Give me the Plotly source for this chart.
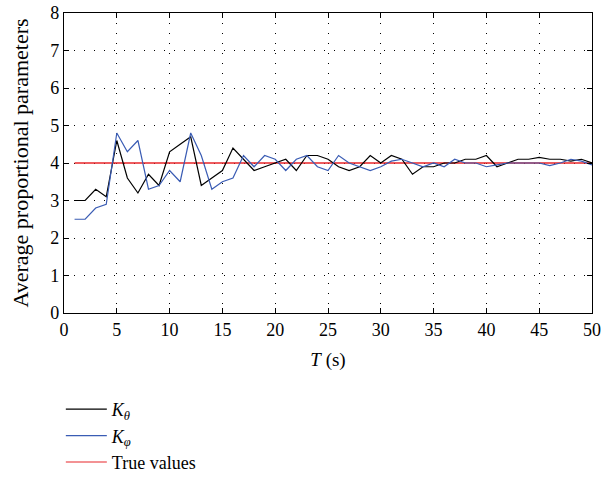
import plotly.graph_objects as go

t = list(range(1, 51))
k_theta = [3.0, 3.0, 3.3, 3.1, 4.6, 3.6, 3.2, 3.7, 3.4, 4.3,
           4.5, 4.7, 3.4, 3.6, 3.8, 4.4, 4.1, 3.8, 3.9, 4.0,
           4.1, 3.8, 4.2, 4.2, 4.1, 3.9, 3.8, 3.9, 4.2, 4.0,
           4.2, 4.1, 3.7, 3.9, 3.9, 4.0, 4.0, 4.1, 4.1, 4.2,
           3.9, 4.0, 4.1, 4.1, 4.15, 4.1, 4.1, 4.05, 4.1, 4.0]
k_phi = [2.5, 2.5, 2.8, 2.9, 4.8, 4.3, 4.6, 3.3, 3.4, 3.8,
         3.5, 4.8, 4.2, 3.3, 3.5, 3.6, 4.2, 3.9, 4.2, 4.1,
         3.8, 4.1, 4.2, 3.9, 3.8, 4.2, 4.0, 3.9, 3.8, 3.9,
         4.05, 4.1, 4.0, 3.9, 4.0, 3.9, 4.1, 4.0, 4.0, 3.9,
         3.95, 4.0, 4.0, 4.0, 4.0, 3.93, 4.0, 4.1, 4.05, 3.95]
true_vals = [4.0] * 50

x_ticks = [0, 5, 10, 15, 20, 25, 30, 35, 40, 45, 50]
y_ticks = [0, 1, 2, 3, 4, 5, 6, 7, 8]

font_family = "Liberation Serif, Times New Roman, DejaVu Serif, serif"

fig = go.Figure()
fig.add_trace(go.Scatter(x=t, y=true_vals, mode="lines",
                         line=dict(color="#e8262a", width=1.6),
                         name="True values", showlegend=False))
fig.add_trace(go.Scatter(x=t, y=k_theta, mode="lines",
                         line=dict(color="#000000", width=1.2),
                         name="<i>K</i><sub><i>θ</i></sub>"))
fig.add_trace(go.Scatter(x=t, y=k_phi, mode="lines",
                         line=dict(color="#3a5cb4", width=1.2),
                         name="<i>K</i><sub><i>φ</i></sub>"))
fig.add_trace(go.Scatter(x=[None], y=[None], mode="lines",
                         line=dict(color="#e8262a", width=1.2),
                         name="True values"))

axis_common = dict(
    showline=True, linecolor="#000000", linewidth=1.3, mirror="ticks",
    ticks="inside", ticklen=5, tickcolor="#000000", tickwidth=1,
    showgrid=True, gridcolor="#000000", gridwidth=1, griddash="1px,9px",
    zeroline=False, automargin=False,
    tickfont=dict(family=font_family, size=18, color="#000000"),
)

fig.update_layout(
    width=614, height=477,
    margin=dict(l=63.5, r=21.5, t=13.3, b=163.7, autoexpand=False),
    paper_bgcolor="white", plot_bgcolor="white",
    font=dict(family=font_family, color="#000000"),
    xaxis=dict(range=[0, 50], tickvals=x_ticks, **axis_common,
               title=dict(text="<i>T</i> (s)", font=dict(family=font_family, size=19), standoff=13)),
    yaxis=dict(range=[0, 8], tickvals=y_ticks, **axis_common,
               title=dict(text="Average proportional parameters",
                          font=dict(family=font_family, size=22), standoff=15)),
    legend=dict(x=-0.006, xanchor="left", y=-0.26, yanchor="top",
                font=dict(family=font_family, size=18, color="#000000"),
                bgcolor="rgba(0,0,0,0)", tracegroupgap=0, itemwidth=41),
    showlegend=True,
)

# remove the default page margin so the figure fills the window exactly
fig.write_html("out.html",
               config={"displayModeBar": False},
               post_script="document.body.style.margin='0';document.body.style.overflow='hidden';")
